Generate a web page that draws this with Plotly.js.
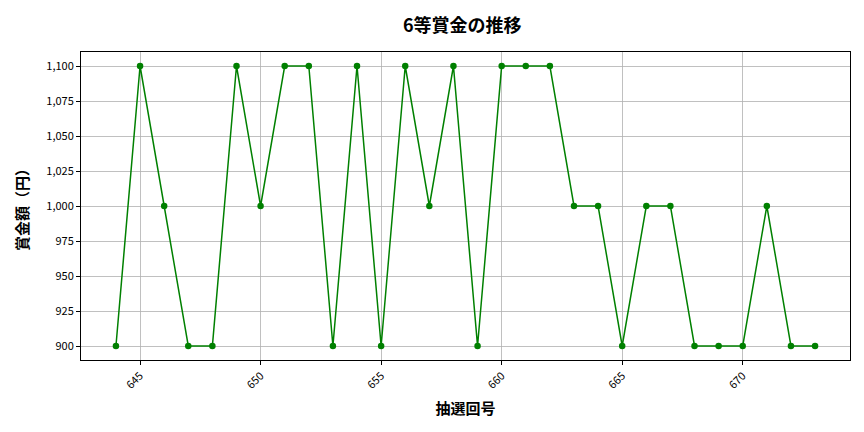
<!DOCTYPE html>
<html>
<head>
<meta charset="utf-8">
<script src="https://cdn.plot.ly/plotly-3.0.1.min.js"></script>
<style>
  html, body { margin: 0; padding: 0; background: #fff; }
  #chart { width: 864px; height: 432px; }
</style>
</head>
<body>
<div id="chart"></div>
<script>
// 抽選回号 and 6等賞金
var drawNumbers = [644, 645, 646, 647, 648, 649, 650, 651, 652, 653,
                   654, 655, 656, 657, 658, 659, 660, 661, 662, 663,
                   664, 665, 666, 667, 668, 669, 670, 671, 672, 673];
var prizeYen = [900, 1100, 1000, 900, 900, 1100, 1000, 1100, 1100, 900,
                1100, 900, 1100, 1000, 1100, 900, 1100, 1100, 1100, 1000,
                1000, 900, 1000, 1000, 900, 900, 900, 1000, 900, 900];
var xTicks = [645, 650, 655, 660, 665, 670];
var yTicks = [900, 925, 950, 975, 1000, 1025, 1050, 1075, 1100];

var font = '"Noto Sans CJK JP", "DejaVu Sans", sans-serif';

var trace = {
    x: drawNumbers,
    y: prizeYen,
    mode: 'lines+markers',
    type: 'scatter',
    line: { color: 'green', width: 1.5 },
    marker: { color: 'green', size: 6.5 },
    hoverinfo: 'skip'
};

var layout = {
    width: 864,
    height: 432,
    paper_bgcolor: '#fff',
    plot_bgcolor: '#fff',
    margin: { l: 81, r: 14, t: 52, b: 72 },
    font: { family: font, size: 11, color: '#000' },
    showlegend: false,
    title: {
        text: '6等賞金の推移',
        font: { family: font, size: 18, color: '#000', weight: 'bold' },
        x: 0.535, xanchor: 'center',
        y: 0.94, yanchor: 'middle'
    },
    xaxis: {
        range: [642.55, 674.45],
        tickvals: xTicks,
        ticktext: xTicks.map(String),
        tickangle: -45,
        ticks: 'outside',
        ticklen: 4,
        tickcolor: '#000',
        showgrid: true,
        gridcolor: '#b0b0b0',
        gridwidth: 0.8,
        zeroline: false,
        showline: true,
        linecolor: '#000',
        linewidth: 1,
        mirror: true,
        title: { text: '抽選回号', font: { family: font, size: 15, weight: 'bold' }, standoff: 12 }
    },
    yaxis: {
        range: [890, 1110],
        tickvals: yTicks,
        ticktext: yTicks.map(function (v) { return v.toLocaleString('en-US'); }),
        ticks: 'outside',
        ticklen: 4,
        tickcolor: '#000',
        showgrid: true,
        gridcolor: '#b0b0b0',
        gridwidth: 0.8,
        zeroline: false,
        showline: true,
        linecolor: '#000',
        linewidth: 1,
        mirror: true,
        title: { text: '賞金額（円）', font: { family: font, size: 15, weight: 'bold' }, standoff: 14 }
    }
};

Plotly.newPlot('chart', [trace], layout, { staticPlot: true, displayModeBar: false });
</script>
</body>
</html>
